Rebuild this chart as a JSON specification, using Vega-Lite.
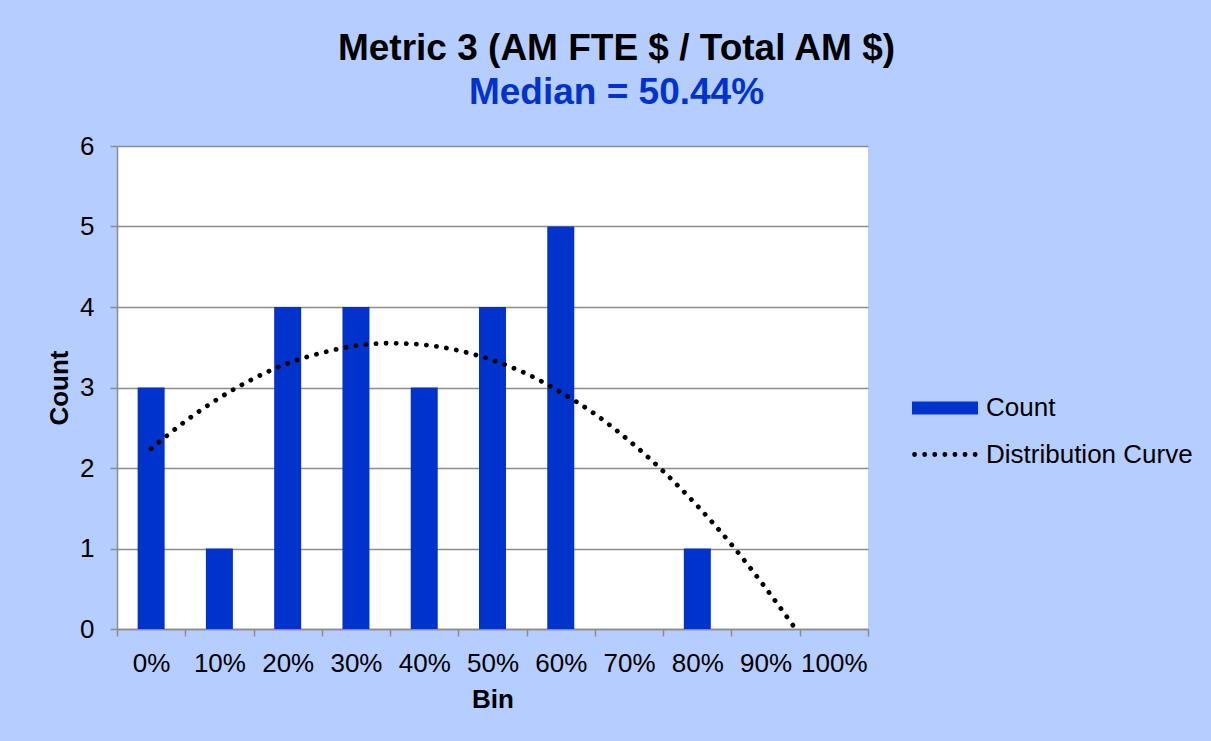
{
  "$schema": "https://vega.github.io/schema/vega-lite/v6.json",
  "autosize": "none",
  "width": 751,
  "height": 483,
  "padding": {"left": 117, "top": 146, "right": 343, "bottom": 112},
  "background": "#B6CEFF",
  "config": {
    "font": "Liberation Sans",
    "view": {"fill": "white", "stroke": null},
    "axis": {"labelColor": "#000", "titleColor": "#000", "labelFont": "Liberation Sans", "titleFont": "Liberation Sans"}
  },
  "title": {
    "text": "Metric 3 (AM FTE $ / Total AM $)",
    "subtitle": "Median = 50.44%",
    "anchor": "middle",
    "frame": "group",
    "dx": 124,
    "offset": 21,
    "fontSize": 37,
    "fontWeight": "bold",
    "color": "#000",
    "subtitleFontSize": 37,
    "subtitleFontWeight": "bold",
    "subtitleColor": "#0033CC",
    "subtitlePadding": 7,
    "font": "Liberation Sans",
    "subtitleFont": "Liberation Sans"
  },
  "datasets": {
    "bars": [
      {"bin": 0, "value": 3},
      {"bin": 10, "value": 1},
      {"bin": 20, "value": 4},
      {"bin": 30, "value": 4},
      {"bin": 40, "value": 3},
      {"bin": 50, "value": 4},
      {"bin": 60, "value": 5},
      {"bin": 70, "value": 0},
      {"bin": 80, "value": 1},
      {"bin": 90, "value": 0},
      {"bin": 100, "value": 0}
    ],
    "curve": [
      {"bin": 0, "value": 2.24},
      {"bin": 5, "value": 2.58},
      {"bin": 10, "value": 2.87},
      {"bin": 15, "value": 3.11},
      {"bin": 20, "value": 3.30},
      {"bin": 25, "value": 3.43},
      {"bin": 30, "value": 3.52},
      {"bin": 35, "value": 3.55},
      {"bin": 40, "value": 3.53},
      {"bin": 45, "value": 3.46},
      {"bin": 50, "value": 3.34},
      {"bin": 55, "value": 3.17},
      {"bin": 60, "value": 2.94},
      {"bin": 65, "value": 2.67},
      {"bin": 70, "value": 2.34},
      {"bin": 75, "value": 1.96},
      {"bin": 80, "value": 1.53},
      {"bin": 85, "value": 1.05},
      {"bin": 90, "value": 0.51},
      {"bin": 94.4, "value": 0}
    ]
  },
  "encoding": {
    "y": {
      "field": "value",
      "type": "quantitative",
      "scale": {"domain": [0, 6], "nice": false, "zero": true},
      "axis": {
        "values": [0, 1, 2, 3, 4, 5, 6],
        "title": "Count",
        "titleFontSize": 26,
        "titleFontWeight": "bold",
        "titleX": -50,
        "titleY": 241.5,
        "titleAngle": -90,
        "titleAlign": "center",
        "titleBaseline": "alphabetic",
        "labelFontSize": 26,
        "labelPadding": 16,
        "tickSize": 7,
        "tickColor": "#8C8C8C",
        "tickWidth": 1.5,
        "domainColor": "#8C8C8C",
        "domainWidth": 1.5,
        "grid": true,
        "gridColor": "#8C8C8C",
        "gridWidth": 1.5
      }
    }
  },
  "layer": [
    {
      "data": {"name": "bars"},
      "mark": {"type": "bar", "size": 27},
      "encoding": {
        "x": {
          "field": "bin",
          "type": "quantitative",
          "scale": {"domain": [-5, 105], "nice": false, "zero": false, "padding": 0},
          "axis": {
            "orient": "bottom",
            "values": [-5, 5, 15, 25, 35, 45, 55, 65, 75, 85, 95, 105],
            "labels": false,
            "title": null,
            "grid": false,
            "tickSize": 7,
            "tickColor": "#8C8C8C",
            "tickWidth": 1.5,
            "domainColor": "#8C8C8C",
            "domainWidth": 1.5
          }
        },
        "color": {
          "datum": "Count",
          "type": "nominal",
          "scale": {"range": ["#0033CC"]},
          "legend": {
            "title": null,
            "orient": "none",
            "legendX": 795,
            "legendY": 229,
            "padding": 0,
            "symbolType": "M-1,-0.2H1V0.2H-1Z",
            "symbolSize": 4356,
            "symbolStrokeWidth": 0,
            "labelFontSize": 26,
            "labelFont": "Liberation Sans",
            "labelColor": "#000",
            "labelOffset": 8,
            "labelLimit": 0
          }
        }
      }
    },
    {
      "data": {"name": "curve"},
      "mark": {"type": "line", "color": "black", "strokeWidth": 4.8, "strokeCap": "round", "interpolate": "monotone"},
      "encoding": {
        "x": {
          "field": "bin",
          "type": "quantitative",
          "scale": {"domain": [-5, 105], "nice": false, "zero": false, "padding": 0},
          "axis": {
            "orient": "bottom",
            "values": [0, 10, 20, 30, 40, 50, 60, 70, 80, 90, 100],
            "labelExpr": "datum.value + '%'",
            "labelFontSize": 26,
            "labelPadding": 21,
            "labelOverlap": false,
            "labelFlush": false,
            "ticks": false,
            "tickSize": 0,
            "domain": false,
            "grid": false,
            "title": "Bin",
            "titleFontSize": 26,
            "titleFontWeight": "bold",
            "titleY": 78,
            "titleBaseline": "alphabetic"
          }
        },
        "strokeDash": {
          "datum": "Distribution Curve",
          "type": "nominal",
          "scale": {"range": [[0.1, 10]]},
          "legend": {
            "title": null,
            "orient": "none",
            "legendX": 795,
            "legendY": 273,
            "padding": 0,
            "symbolType": "stroke",
            "symbolSize": 4356,
            "symbolStrokeWidth": 4.8,
            "symbolStrokeColor": "black",
            "labelFontSize": 26,
            "labelFont": "Liberation Sans",
            "labelColor": "#000",
            "labelOffset": 3,
            "labelLimit": 0,
            "encode": {"symbols": {"update": {"strokeCap": {"value": "round"}}}}
          }
        }
      }
    }
  ],
  "resolve": {"axis": {"x": "independent"}}
}
